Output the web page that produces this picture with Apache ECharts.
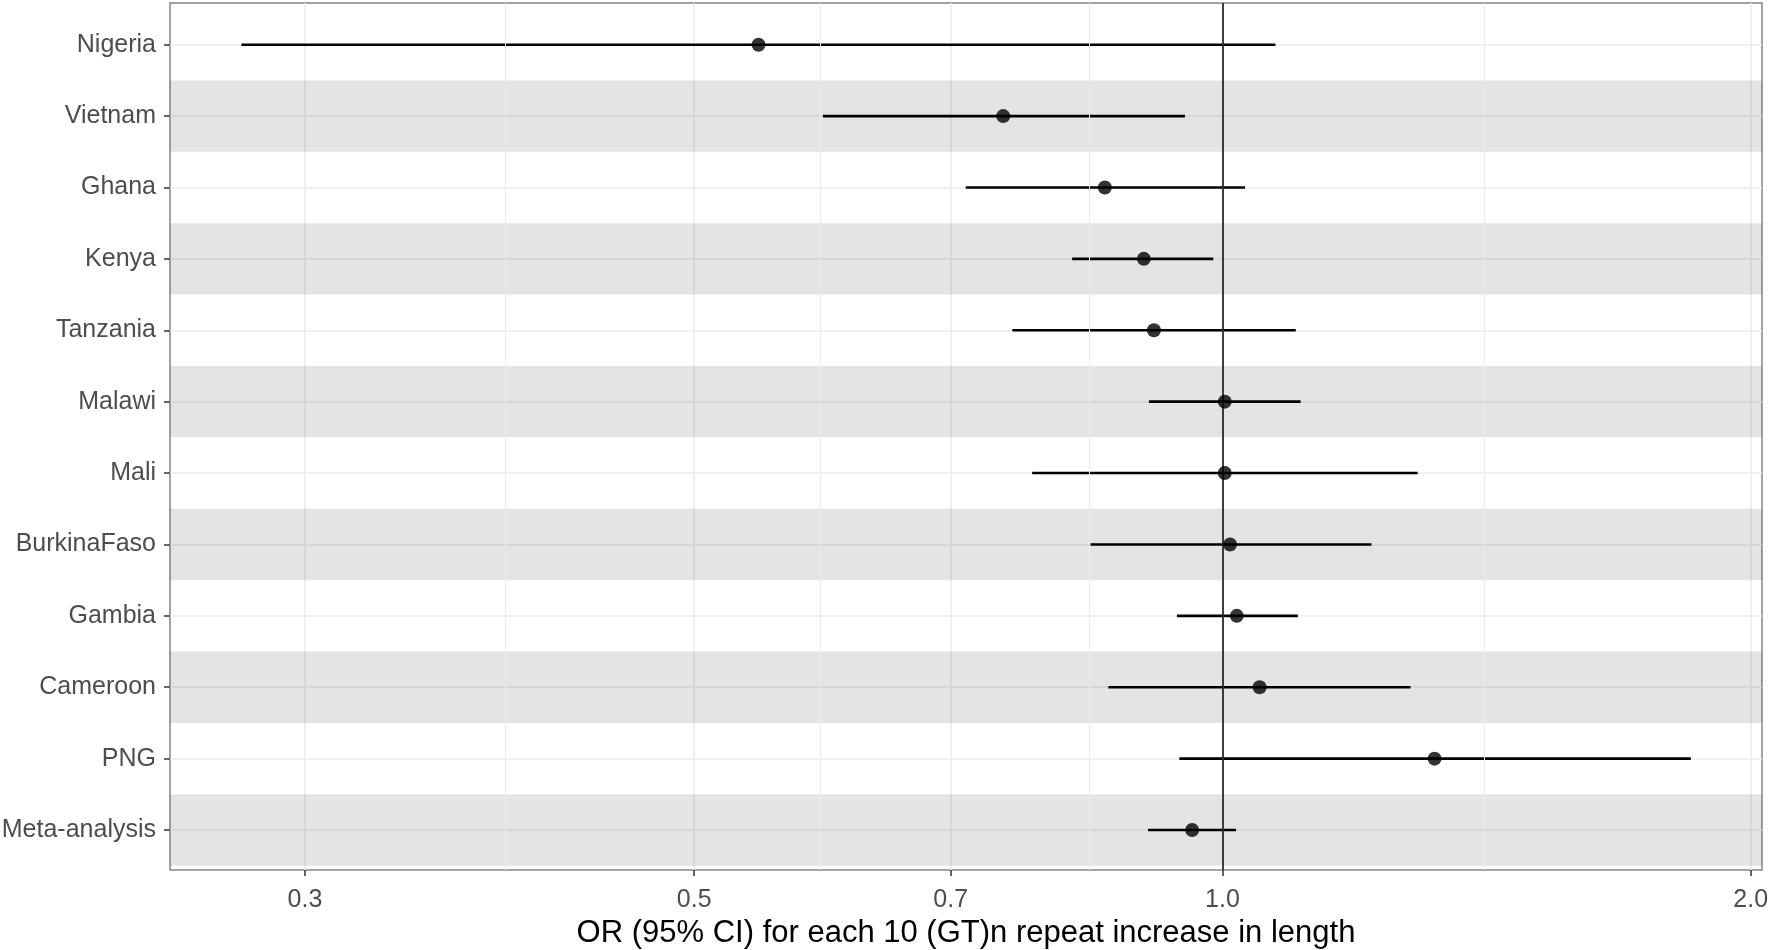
<!DOCTYPE html>
<html><head><meta charset="utf-8">
<script src="https://cdn.jsdelivr.net/npm/echarts@6/dist/echarts.min.js"></script>
<style>html,body{margin:0;padding:0;background:#fff}#c{width:1770px;height:950px}</style>
</head><body><div id="c"></div>
<script>
const countries = ['Nigeria','Vietnam','Ghana','Kenya','Tanzania','Malawi','Mali','BurkinaFaso','Gambia','Cameroon','PNG','Meta-analysis'];
const orEstimate = [0.544, 0.750, 0.857, 0.902, 0.914, 1.003, 1.003, 1.010, 1.019, 1.050, 1.321, 0.961];
const ciLower    = [0.276, 0.592, 0.714, 0.821, 0.759, 0.908, 0.779, 0.841, 0.942, 0.861, 0.945, 0.907];
const ciUpper    = [1.072, 0.952, 1.030, 0.988, 1.101, 1.108, 1.292, 1.216, 1.104, 1.280, 1.849, 1.018];
const shadedRows = ['Vietnam','Kenya','Malawi','BurkinaFaso','Cameroon','Meta-analysis'];
const xMajorTicks = [0.3, 0.5, 0.7, 1.0, 2.0];
const xMinorBreaks = [0.3873, 0.5916, 0.8367, 1.4142];
const referenceOR = 1.0;
const xAxisTitle = 'OR (95% CI) for each 10 (GT)n repeat increase in length';

const rowPos = countries.map((c, i) => i + 1);
const FONT = '"Liberation Sans", Arial, Helvetica, sans-serif';

const chart = echarts.init(document.getElementById('c'));
chart.setOption({
  animation: false,
  backgroundColor: '#ffffff',
  grid: { left: 170, right: 8, top: 3, bottom: 80, containLabel: false, outerBoundsMode: 'none', show: true, borderColor: '#858585', borderWidth: 1.5, backgroundColor: 'transparent' },
  xAxis: {
    type: 'log', logBase: 10, min: 0.2513, max: 2.03,
    axisLine: { show: false },
    axisTick: { show: true, customValues: xMajorTicks, length: 6, lineStyle: { color: '#333', width: 1.5 } },
    axisLabel: { customValues: xMajorTicks, formatter: v => Number(v).toFixed(1), fontSize: 25, color: '#4d4d4d', fontFamily: FONT, margin: 18 },
    splitLine: { show: true, lineStyle: { color: '#ebebeb', width: 1.5 } },
    minorTick: { show: false }, minorSplitLine: { show: false },
    name: xAxisTitle, nameLocation: 'middle', nameGap: 47,
    nameTextStyle: { fontSize: 31, color: '#000', fontFamily: FONT }
  },
  yAxis: {
    type: 'value', inverse: true, min: 0.416, max: 12.56,
    axisLine: { show: false },
    axisTick: { show: true, customValues: rowPos, length: 6, lineStyle: { color: '#333', width: 1.5 } },
    axisLabel: { customValues: rowPos, formatter: v => countries[Math.round(v) - 1] || '', fontSize: 25, color: '#4d4d4d', fontFamily: FONT, margin: 14 },
    splitLine: { show: true, lineStyle: { color: '#ebebeb', width: 1.5 } }
  },
  series: [
    {
      type: 'scatter', data: [], z: 1, silent: true,
      markLine: {
        silent: true, symbol: ['none', 'none'], label: { show: false },
        lineStyle: { color: '#ebebeb', width: 1, type: 'solid' },
        data: xMinorBreaks.map(v => ({ xAxis: v }))
      }
    },
    {
      type: 'scatter', data: [], z: 2, silent: true,
      markArea: {
        silent: true, itemStyle: { color: 'rgba(0,0,0,0.105)' },
        data: shadedRows.map(name => {
          const p = countries.indexOf(name) + 1;
          return [{ yAxis: p - 0.5 }, { yAxis: p + 0.5 }];
        })
      }
    },
    {
      type: 'scatter', data: [], z: 3, silent: true,
      markLine: {
        silent: true, symbol: ['none', 'none'], label: { show: false },
        lineStyle: { color: '#2b2b2b', width: 1.8, type: 'solid' },
        data: [{ xAxis: referenceOR }]
      }
    },
    {
      type: 'custom', z: 4, silent: true,
      data: countries.map((c, i) => [ciLower[i], ciUpper[i], rowPos[i]]),
      encode: { x: [0, 1], y: 2 },
      renderItem: function (params, api) {
        const a = api.coord([api.value(0), api.value(2)]);
        const b = api.coord([api.value(1), api.value(2)]);
        return { type: 'line', shape: { x1: a[0], y1: a[1], x2: b[0], y2: b[1] }, style: { stroke: '#000', lineWidth: 2.6 } };
      }
    },
    {
      type: 'scatter', z: 5, silent: true,
      data: countries.map((c, i) => [orEstimate[i], rowPos[i]]),
      symbol: 'circle', symbolSize: 14, itemStyle: { color: '#000' }
    }
  ]
});
</script>
</body></html>
